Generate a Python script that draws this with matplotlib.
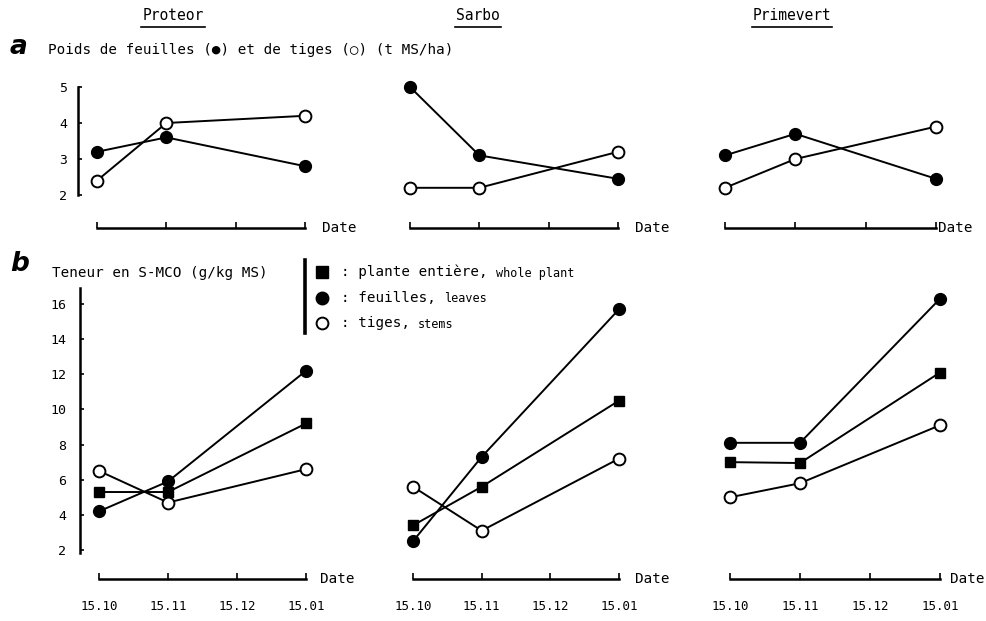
import matplotlib
matplotlib.use("Agg")
import matplotlib.pyplot as plt

plt.rcParams['font.family'] = ['DejaVu Sans Mono', 'DejaVu Sans']

# data: months after 15.10 (15.10, 15.11, 15.01)
varieties = ['Proteor', 'Sarbo', 'Primevert']
sample_months = [0, 1, 3]
date_ticks = [0, 1, 2, 3]
date_labels = ['15.10', '15.11', '15.12', '15.01']

# a: weight of leaves and stems (t MS/ha)
leaf_weight = [[3.2, 3.6, 2.8], [5.0, 3.1, 2.45], [3.1, 3.7, 2.45]]
stem_weight = [[2.4, 4.0, 4.2], [2.2, 2.2, 3.2], [2.2, 3.0, 3.9]]

# b: S-MCO content (g/kg MS)
smco_whole = [[5.3, 5.3, 9.2], [3.4, 5.6, 10.5], [7.0, 6.95, 12.1]]
smco_leaves = [[4.2, 5.9, 12.2], [2.5, 7.3, 15.7], [8.1, 8.1, 16.3]]
smco_stems = [[6.5, 4.7, 6.6], [5.6, 3.1, 7.2], [5.0, 5.8, 9.1]]

W, H = 986, 621
fig = plt.figure(figsize=(W / 100, H / 100), dpi=100)

# overlay in pixel coordinates for the free text
over = fig.add_axes([0, 0, 1, 1])
over.set_xlim(0, W)
over.set_ylim(H, 0)
over.axis('off')

XMIN, XMAX = -0.274, 3.05


def panel(x0, x3, top_px, axis_px, ylim):
    # x0/x3: pixel position of 15.10 and 15.01, axis_px: pixel row of the date axis
    per = (x3 - x0) / 3
    left = x0 + XMIN * per
    right = x0 + XMAX * per
    ax = fig.add_axes([left / W, 1 - axis_px / H, (right - left) / W, (axis_px - top_px) / H])
    ax.set_xlim(XMIN, XMAX)
    ax.set_ylim(*ylim)
    ax.patch.set_visible(False)
    for s in ['top', 'right']:
        ax.spines[s].set_visible(False)
    ax.spines['bottom'].set_bounds(0, 3)
    ax.spines['bottom'].set_linewidth(1.8)
    ax.set_xticks(date_ticks)
    ax.tick_params(axis='x', direction='in', length=4, width=1.2)
    return ax


def plot_series(ax, y, kind):
    common = dict(color='black', lw=1.4, clip_on=False, zorder=3)
    if kind == 'filled':
        ax.plot(sample_months, y, marker='o', ms=8.5, mfc='black', mec='black', **common)
    elif kind == 'open':
        ax.plot(sample_months, y, marker='o', ms=8.5, mfc='white', mec='black', mew=1.4, **common)
    else:
        ax.plot(sample_months, y, marker='s', ms=7, mfc='black', mec='black', **common)


top_cols = [(97, 305), (410, 618), (725, 936)]
bot_cols = [(99, 306), (413, 619), (730, 940)]
top_date_off = [17, 17, 2]
bot_date_off = [14, 16, 10]

# row a: value 5 at y=87, 2 at y=195, date axis at y=228
a_per = (195 - 87) / 3
a_ylim = (5 - (228 - 87) / a_per, 5 + (87 - 78) / a_per)
# row b: value 16 at y=304, 2 at y=550, date axis at y=579
b_per = (550 - 304) / 14
b_ylim = (2 - (579 - 550) / b_per, 2 + (550 - 284) / b_per)

for i, name in enumerate(varieties):
    ax = panel(top_cols[i][0], top_cols[i][1], 78, 228, a_ylim)
    plot_series(ax, leaf_weight[i], 'filled')
    plot_series(ax, stem_weight[i], 'open')
    ax.set_xticklabels([])
    ax.annotate('Date', xy=(3, a_ylim[0]), xytext=(top_date_off[i], 0),
                textcoords='offset pixels', va='center', ha='left', fontsize=10.3,
                annotation_clip=False)
    if i == 0:
        ax.spines['left'].set_bounds(2, 5)
        ax.spines['left'].set_linewidth(1.8)
        ax.set_yticks([2, 3, 4, 5])
        ax.tick_params(axis='y', direction='in', length=3, width=1.2, labelsize=9.5, pad=8)
    else:
        ax.spines['left'].set_visible(False)
        ax.set_yticks([])

    bx = panel(bot_cols[i][0], bot_cols[i][1], 284, 579, b_ylim)
    plot_series(bx, smco_leaves[i], 'filled')
    plot_series(bx, smco_whole[i], 'square')
    plot_series(bx, smco_stems[i], 'open')
    bx.set_xticklabels(date_labels, fontsize=9)
    bx.tick_params(axis='x', pad=15)
    bx.annotate('Date', xy=(3, b_ylim[0]), xytext=(bot_date_off[i], 0),
                textcoords='offset pixels', va='center', ha='left', fontsize=10.3,
                annotation_clip=False)
    if i == 0:
        bx.spines['left'].set_bounds(1.85, 16.9)
        bx.spines['left'].set_linewidth(1.8)
        bx.set_yticks(range(2, 17, 2))
        bx.tick_params(axis='y', direction='in', length=3, width=1.2, labelsize=9.5, pad=10)
    else:
        bx.spines['left'].set_visible(False)
        bx.set_yticks([])

# variety titles, underlined
title_x = [173, 478, 792]
titles = []
for name, x in zip(varieties, title_x):
    titles.append(over.text(x, 16, name, ha='center', va='center', fontsize=10.5))

# panel letters and axis captions
over.text(10, 47, 'a', fontsize=19, fontweight='heavy', style='italic',
          family='DejaVu Sans', va='center', ha='left')
over.text(48, 50, 'Poids de feuilles (\u25cf) et de tiges (\u25cb) (t MS/ha)',
          fontsize=10.3, va='center', ha='left')
over.text(10, 264, 'b', fontsize=19, fontweight='heavy', style='italic',
          family='DejaVu Sans', va='center', ha='left')
over.text(52, 273, 'Teneur en S-MCO (g/kg MS)', fontsize=10.3, va='center', ha='left')

# legend of row b
over.plot([305, 305], [260, 333], color='black', lw=2.6)
over.plot([322], [272], marker='s', ms=8, color='black', ls='none')
over.plot([322], [298], marker='o', ms=9, color='black', ls='none')
over.plot([322], [323], marker='o', ms=8.5, mfc='white', mec='black', mew=1.4, ls='none')
legend_fr = [': plante enti\u00e8re,', ': feuilles,', ': tiges,']
legend_en = ['whole plant', 'leaves', 'stems']
legend_y = [272, 298, 323]
fig.canvas.draw()
renderer = fig.canvas.get_renderer()
inv = over.transData.inverted()
for fr, en, y in zip(legend_fr, legend_en, legend_y):
    t = over.text(341, y, fr, fontsize=10.3, va='center', ha='left')
    bb = t.get_window_extent(renderer)
    xr = inv.transform((bb.x1, bb.y0))[0]
    over.text(xr + 8, y + 1, en, fontsize=8.5, va='center', ha='left')

for t in titles:
    bb = t.get_window_extent(renderer)
    (xa, ya), (xb, _) = inv.transform([(bb.x0, bb.y0), (bb.x1, bb.y0)])
    over.plot([xa - 1, xb + 1], [ya + 3, ya + 3], color='black', lw=1.2)

fig.savefig('out.png', dpi=100)
